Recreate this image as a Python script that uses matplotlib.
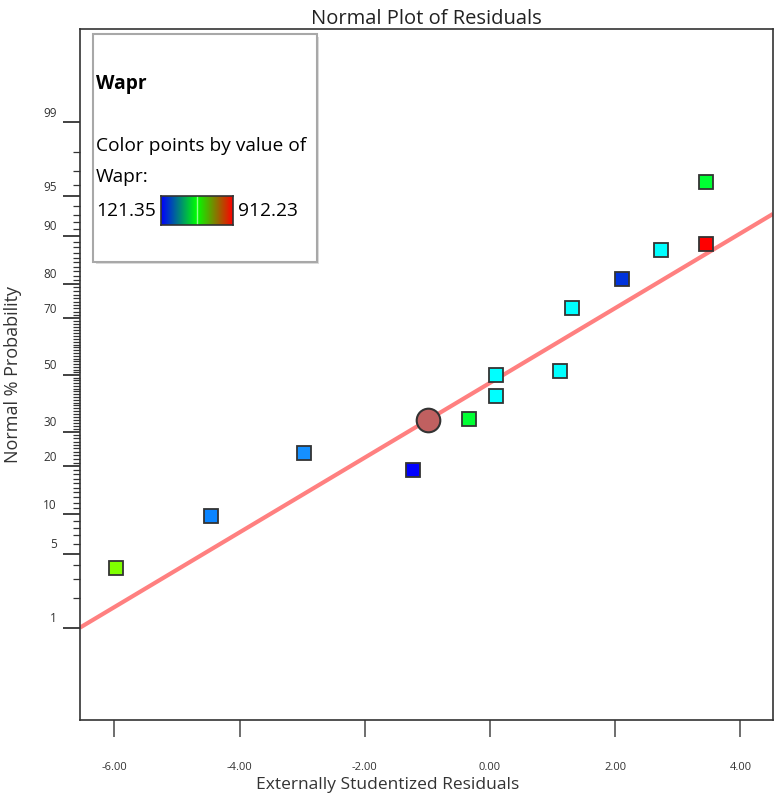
""" Normal plot of residuals (Design-Expert style) """

from statistics import NormalDist

import numpy as np
import matplotlib
matplotlib.use("Agg")
import matplotlib.pyplot as plt
from matplotlib import transforms
from matplotlib.colors import LinearSegmentedColormap
from matplotlib.patches import Rectangle

plt.rcParams['font.family'] = ['Open Sans', 'DejaVu Sans']

# Data
resid = [-5.98, -4.45, -2.97, -1.23, -0.99, -0.34, 0.10, 0.10, 1.11, 1.31, 2.10, 2.73, 3.45, 3.45]
prob = [3.8, 9.7, 23.7, 19.0, 33.9, 34.3, 42.2, 50.1, 51.5, 73.2, 81.1, 87.6, 88.6, 96.2]
point_colors = ['#80ff00', '#0a84ff', '#1590ff', '#0000ff', '#c06060', '#00ff33', '#00ffff',
                '#00ffff', '#00ffff', '#00ffff', '#0033dd', '#00ffff', '#ff0000', '#00ff33']
is_circle = [False, False, False, False, True, False, False,
             False, False, False, False, False, False, False]

line_x = [-6.55, 4.52]
line_p = [1.0, 93.1]

xticks = [-6, -4, -2, 0, 2, 4]
yticks = [1, 5, 10, 20, 30, 50, 70, 80, 90, 95, 99]
yminor = [p for p in range(2, 99) if p not in yticks]

wapr_min = 121.35
wapr_max = 912.23

ND = NormalDist()
fwd = np.vectorize(lambda p: ND.inv_cdf(min(max(p / 100.0, 1e-12), 1 - 1e-12)))
inv = np.vectorize(lambda v: ND.cdf(v) * 100.0)

W, H = 777, 794
fig = plt.figure(figsize=(W / 100, H / 100), dpi=100)
ax = fig.add_axes([80 / W, 1 - 720 / H, 693 / W, 691 / H])

ax.set_yscale('function', functions=(fwd, inv))
ax.set_xlim(-6.55, 4.52)
ax.set_ylim(float(inv(-3.177)), float(inv(3.186)))

# fitted line
ax.plot(line_x, line_p, color='#ff8080', lw=3, solid_capstyle='butt', zorder=2)

# points
for x, p, c, circ in zip(resid, prob, point_colors, is_circle):
    if circ:
        ax.plot(x, p, 'o', ms=17, mfc=c, mec='#333333', mew=1.5, zorder=4)
    else:
        ax.plot(x, p, 's', ms=10, mfc=c, mec='#333333', mew=1.3, zorder=3)

# axes styling
for s in ax.spines.values():
    s.set_color('#333333')
    s.set_linewidth(1.2)

ax.set_xticks(xticks)
ax.set_xticklabels(['%.2f' % v for v in xticks])
ax.tick_params(axis='x', length=12, width=1.2, color='#555555', pad=18,
               labelsize=8, labelcolor='#333333')

ax.set_yticks(yticks)
ax.set_yticklabels([''] * len(yticks))
ax.set_yticks(yminor, minor=True)
ax.tick_params(axis='y', which='major', length=12, width=1.3, color='#333333')
ax.tick_params(axis='y', which='minor', length=5, width=0.9, color='#333333')

off = transforms.ScaledTranslation(-23 / 100, 9 / 100, fig.dpi_scale_trans)
ytr = transforms.blended_transform_factory(ax.transAxes, ax.transData) + off
for p in yticks:
    ax.text(0, p, str(p), transform=ytr, ha='right', va='center',
            fontsize=8.5, color='#333333')

ax.set_title('Normal Plot of Residuals', fontsize=14.5, color='#222222', pad=3)
ax.set_xlabel('Externally Studentized Residuals', fontsize=12.5, color='#333333', labelpad=0)
ax.xaxis.set_label_coords(0.444, -0.083)
ax.set_ylabel('Normal % Probability', fontsize=13, color='#333333', labelpad=26)

# legend box
lx, ly, lw_, lh = 93, 34, 226, 230
leg = fig.add_axes([lx / W, 1 - (ly + lh) / H, lw_ / W, lh / H])
leg.set_xlim(0, lw_)
leg.set_ylim(lh, 0)
leg.axis('off')
leg.add_patch(Rectangle((3, 3), lw_ - 3, lh - 3, fc='#dddddd', ec='none', clip_on=False, zorder=0))
leg.add_patch(Rectangle((0, 0), lw_ - 2, lh - 2, fc='white', ec='#a8a8a8', lw=1.5, clip_on=False, zorder=1))
fs = 13.8
leg.text(3, 50, 'Wapr', fontsize=fs, fontweight='bold', va='center', zorder=2)
leg.text(3, 112, 'Color points by value of', fontsize=fs, va='center', zorder=2)
leg.text(3, 143, 'Wapr:', fontsize=fs, va='center', zorder=2)
leg.text(3, 177, '%.2f' % wapr_min, fontsize=fs, va='center', zorder=2)
leg.text(145, 177, '%.2f' % wapr_max, fontsize=fs, va='center', zorder=2)

cmap = LinearSegmentedColormap.from_list('wapr', ['#0000ff', '#00ff00', '#ff0000'])
cb = fig.add_axes([161 / W, 1 - 225 / H, 72 / W, 29 / H])
cb.imshow(np.linspace(0, 1, 256)[None, :], aspect='auto', cmap=cmap,
          extent=[wapr_min, wapr_max, 0, 1])
cb.axvline((wapr_min + wapr_max) / 2, color='#90ff90', lw=1)
cb.set_xticks([])
cb.set_yticks([])
for s in cb.spines.values():
    s.set_color('#333333')
    s.set_linewidth(1.2)

fig.savefig('out.png', dpi=100)
